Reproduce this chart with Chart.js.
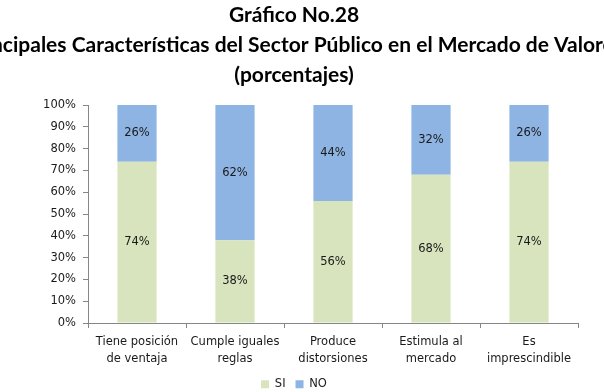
<!DOCTYPE html>
<html>
<head>
<meta charset="utf-8">
<script src="https://cdn.jsdelivr.net/npm/chart.js@4"></script>
<style>
  html, body { margin: 0; padding: 0; background: #fff; }
  #wrap { width: 604px; height: 392px; }
</style>
</head>
<body>
<div id="wrap"><canvas id="myChart"></canvas></div>
<script>
// data
const categories = [
  ["Tiene posición", "de ventaja"],
  ["Cumple iguales", "reglas"],
  ["Produce", "distorsiones"],
  ["Estimula al", "mercado"],
  ["Es", "imprescindible"]
];
const siValues = [74, 38, 56, 68, 74];
const noValues = [26, 62, 44, 32, 26];
const titleLines = [
  "Gráfico No.28",
  "Principales Características del Sector Público en el Mercado de Valores",
  "(porcentajes)"
];

// writes the value in the middle of each bar
const barLabels = {
  id: "barLabels",
  afterDatasetsDraw(chart) {
    const ctx = chart.ctx;
    ctx.save();
    ctx.font = "11.5px 'DejaVu Sans'";
    ctx.fillStyle = "#1a1a1a";
    ctx.textAlign = "center";
    ctx.textBaseline = "middle";
    chart.data.datasets.forEach((dataset, i) => {
      const meta = chart.getDatasetMeta(i);
      meta.data.forEach((bar, j) => {
        const mid = (bar.y + bar.base) / 2;
        ctx.fillText(dataset.data[j] + "%", bar.x, mid);
      });
    });
    ctx.restore();
  }
};

// the long title line runs past the canvas edges in the original,
// so give the title box more room than the canvas (no squeezing)
const wideTitle = {
  id: "wideTitle",
  afterLayout(chart) {
    const t = chart.titleBlock;
    if (t) {
      t.left = -46;
      t.right = 634;
    }
  }
};

const data = {
  labels: categories,
  datasets: [
    {
      label: "SI",
      data: siValues,
      backgroundColor: "#d7e4bd"
    },
    {
      label: "NO",
      data: noValues,
      backgroundColor: "#8eb4e3"
    }
  ]
};

const config = {
  type: "bar",
  data: data,
  options: {
    responsive: true,
    maintainAspectRatio: false,
    animation: false,
    layout: { padding: { left: 10, right: 26, top: 0, bottom: -8 } },
    datasets: { bar: { barPercentage: 0.4, categoryPercentage: 1 } },
    scales: {
      x: {
        stacked: true,
        afterFit: (scale) => { scale.height -= 4; },
        grid: { display: true, drawOnChartArea: false, color: "#868686", tickLength: 5 },
        border: { color: "#868686" },
        ticks: {
          color: "#1a1a1a",
          font: { family: "DejaVu Sans", size: 11.5, lineHeight: 1.5 },
          maxRotation: 0,
          padding: 5
        }
      },
      y: {
        stacked: true,
        min: 0,
        max: 100,
        afterFit: (scale) => { scale.width = 78; },
        grid: { display: true, drawOnChartArea: false, color: "#868686", tickLength: 5 },
        border: { color: "#868686" },
        ticks: {
          stepSize: 10,
          color: "#1a1a1a",
          font: { family: "DejaVu Sans", size: 11.5 },
          padding: 7,
          callback: (v) => v + "%"
        }
      }
    },
    plugins: {
      title: {
        display: true,
        text: titleLines,
        color: "#000",
        font: { family: "Lato", size: 21, weight: "bold", lineHeight: 1.43 },
        padding: { top: 0, bottom: 15 }
      },
      legend: {
        position: "bottom",
        labels: {
          boxWidth: 8,
          boxHeight: 8,
          color: "#1a1a1a",
          font: { family: "DejaVu Sans", size: 11.5 },
          padding: 10
        }
      },
      tooltip: { enabled: false }
    }
  },
  plugins: [barLabels, wideTitle]
};

const ctx = document.getElementById("myChart");
const myChart = new Chart(ctx, config);
</script>
</body>
</html>
